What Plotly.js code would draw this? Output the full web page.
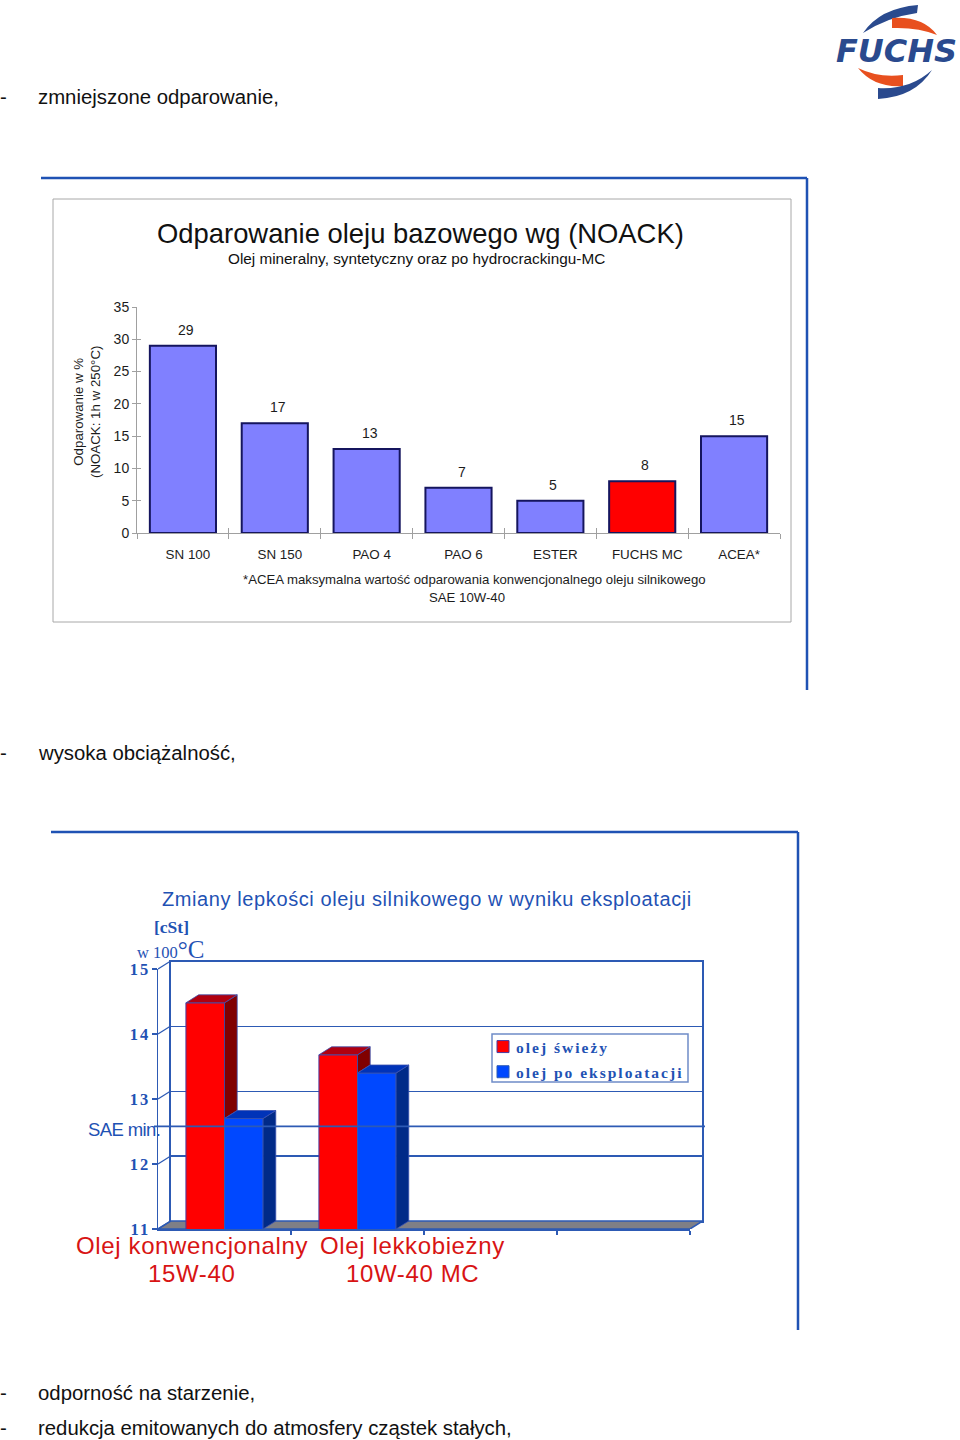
<!DOCTYPE html>
<html><head><meta charset="utf-8">
<script src="https://cdn.plot.ly/plotly-3.0.1.min.js"></script>
<style>
html,body{margin:0;padding:0;background:#fff}
#chart{width:960px;height:1440px}
.legendtext{letter-spacing:2px;transform:translateX(-7px)}
.y5tick text{letter-spacing:2px}
</style></head><body><div id="chart"></div>
<script>
// ---------- data ----------
const noackCategories = ["SN 100","SN 150","PAO 4","PAO 6","ESTER","FUCHS MC","ACEA*"];
const noackValues = [29,17,13,7,5,8,15];
const noackColors = ["#8080ff","#8080ff","#8080ff","#8080ff","#8080ff","#ff0000","#8080ff"];
const noackTicks = [0,5,10,15,20,25,30,35];

const oilLabelsTop = ["Olej konwencjonalny","Olej lekkobieżny"];
const oilLabelsBottom = ["15W-40","10W-40 MC"];
const oilPositions = [0,1];
const freshOil = [14.48,13.68];
const usedOil = [12.7,13.4];
const saeMin = 12.58;
const viscTicks = [11,12,13,14,15];
const slotBoundaries = [0.5,1.5,2.5,3.5];

const bodyLines = [
  ["zmniejszone odparowanie,",97],
  ["wysoka obciążalność,",753],
  ["odporność na starzenie,",1393],
  ["redukcja emitowanych do atmosfery cząstek stałych,",1428]
];

// ---------- helpers ----------
const W=960,H=1440;
const X=p=>p/W, Y=p=>1-p/H;
const SANS="Liberation Sans, Arial, sans-serif", SERIF="Liberation Serif, Times New Roman, serif";
const BLUE="#1f52b4", LINE="#2d5ab4", INK="#1c1c1c", RED="#d81414";
function note(text,px,py,opt){return Object.assign({text,x:X(px),y:Y(py),xref:"paper",yref:"paper",showarrow:false,
  xanchor:"center",yanchor:"middle",font:{family:SANS,size:13,color:INK}},opt||{});}
function spaced(t,s){return `<span style="letter-spacing:${s}px">${t}</span>`;}
function pathOf(seg){return seg.map(s=>{const c=s[0],v=s.slice(1);let o=c;for(let i=0;i<v.length;i+=2){o+=" "+X(v[i])+" "+Y(v[i+1]);}return o;}).join(" ")+" Z";}
function rule(x0,y0,x1,y1,color,width){return {type:"line",xref:"paper",yref:"paper",x0:X(x0),x1:X(x1),y0:Y(y0),y1:Y(y1),line:{color,width}};}
function swoosh(seg,color){return {type:"path",xref:"paper",yref:"paper",path:pathOf(seg),fillcolor:color,line:{width:0}};}

// ---------- chart 1 traces ----------
const traces=[];
traces.push({type:"bar",x:noackCategories,y:noackValues,width:0.72,showlegend:false,hoverinfo:"skip",
  marker:{color:noackColors,line:{color:"#15155e",width:2}},xaxis:"x",yaxis:"y"});
traces.push({type:"scatter",mode:"markers",x:noackCategories,y:noackValues,marker:{opacity:0},showlegend:false,hoverinfo:"skip",xaxis:"x2",yaxis:"y2"});

// ---------- chart 2: 3-D look, depth expressed in axis units ----------
const depthX=0.0955, depthY=0.123, base=viscTicks[0], slotMax=3.5;
const barShare=0.29;
// wall
traces.push({type:"scatter",mode:"markers",x:[0],y:[base],marker:{opacity:0},showlegend:false,hoverinfo:"skip",xaxis:"x3",yaxis:"y3"});
// floor + corner edges
traces.push({type:"scatter",mode:"lines",fill:"toself",fillcolor:"#7f7f86",line:{color:LINE,width:1.5},showlegend:false,hoverinfo:"skip",
  x:[-0.5,slotMax,slotMax+depthX,-0.5+depthX,-0.5],y:[base,base,base+depthY,base+depthY,base],xaxis:"x4",yaxis:"y4"});
{const dx=[],dy=[];viscTicks.forEach(v=>{dx.push(-0.5,-0.5+depthX,null);dy.push(v,v+depthY,null);});
 traces.push({type:"scatter",mode:"lines",line:{color:LINE,width:1.2},x:dx,y:dy,showlegend:false,hoverinfo:"skip",xaxis:"x4",yaxis:"y4"});}
// front faces
traces.push({type:"bar",name:"olej świeży",x:oilPositions,y:freshOil,legendgroup:"a",marker:{color:"#ff0000",line:{color:"#4a3aa0",width:1}},hoverinfo:"skip",xaxis:"x5",yaxis:"y5"});
traces.push({type:"bar",name:"olej po eksploatacji",x:oilPositions,y:usedOil,legendgroup:"b",marker:{color:"#0048ff",line:{color:"#2d5ab4",width:1}},hoverinfo:"skip",xaxis:"x5",yaxis:"y5"});
function face(xs,ys,color){traces.push({type:"scatter",mode:"lines",fill:"toself",fillcolor:color,line:{color:"#3a50b0",width:0.8},x:xs,y:ys,showlegend:false,hoverinfo:"skip",xaxis:"x5",yaxis:"y5"});}
oilPositions.forEach((p,i)=>{
  const a=p-barShare,m=p,b=p+barShare,r=freshOil[i],u=usedOil[i];
  face([m,m,m+depthX,m+depthX,m],[Math.min(u,r),r,r+depthY,Math.min(u,r)+depthY,Math.min(u,r)],"#800000");
  face([a,m,m+depthX,a+depthX,a],[r,r,r+depthY,r+depthY,r],"#b00010");
  face([b,b,b+depthX,b+depthX,b],[base,u,u+depthY,base+depthY,base],"#002a88");
  face([m,b,b+depthX,m+depthX,m],[u,u,u+depthY,u+depthY,u],"#0033b8");
});

// ---------- annotations ----------
const ann=[];
const bodyFont={family:SANS,size:20.35,color:"#111"};
bodyLines.forEach(([t,py])=>{
  ann.push(note("-",-2,py,{xanchor:"left",font:bodyFont}));
  ann.push(note(t,36,py,{xanchor:"left",font:bodyFont}));
});
ann.push(note("Odparowanie oleju bazowego wg (NOACK)",420,234,{font:{family:SANS,size:27.4,color:"#111"}}));
ann.push(note("Olej mineralny, syntetyczny oraz po hydrocrackingu-MC",416.5,258,{font:{family:SANS,size:15.3,color:"#111"}}));
ann.push(note("Odparowanie w %<br>(NOACK: 1h w 250°C)",87,412,{textangle:-90,font:{family:SANS,size:13.3,color:INK}}));
ann.push(note("*ACEA maksymalna wartość odparowania konwencjonalnego oleju silnikowego",474,579,{font:{family:SANS,size:13.2,color:INK}}));
ann.push(note("SAE 10W-40",467,597,{font:{family:SANS,size:13.2,color:INK}}));
noackCategories.forEach((c,i)=>ann.push({text:String(noackValues[i]),x:c,y:noackValues[i],xref:"x",yref:"y",yshift:16,xshift:3,showarrow:false,yanchor:"middle",font:{family:SANS,size:14,color:INK}}));

ann.push(note(spaced("Zmiany lepkości oleju silnikowego w wyniku eksploatacji",0.6),427,899,{font:{family:SANS,size:20,color:BLUE}}));
ann.push(note("<b>[cSt]</b>",171,927,{font:{family:SERIF,size:17.5,color:BLUE}}));
ann.push(note("w 100<span style=\"font-size:25px\">°C</span>",170.5,949,{font:{family:SERIF,size:16.5,color:BLUE}}));
ann.push({text:spaced("SAE min.",-0.6),xref:"paper",yref:"y5",x:X(124),y:saeMin,showarrow:false,xanchor:"center",yanchor:"middle",yshift:-3,font:{family:SANS,size:18.5,color:BLUE}});
const labelShift=[-33,55];
oilPositions.forEach((p,i)=>{
  ann.push({text:spaced(oilLabelsTop[i],0.63),x:p,y:base,xref:"x5",yref:"y5",yanchor:"middle",yshift:-16,xshift:labelShift[i],showarrow:false,font:{family:SANS,size:24,color:RED}});
  ann.push({text:spaced(oilLabelsBottom[i],0.63),x:p,y:base,xref:"x5",yref:"y5",yanchor:"middle",yshift:-44,xshift:labelShift[i],showarrow:false,font:{family:SANS,size:24,color:RED}});
});
// logo wordmark
ann.push(note("<b><i>FUCHS</i></b>",896,51,{font:{family:"DejaVu Sans",size:32,color:"#2a4a8e"}}));

// ---------- shapes ----------
const shapes=[
  rule(41,178,807,178,BLUE,2.5), rule(807,178,807,690,BLUE,2.5),
  rule(51,832,798,832,BLUE,2.5), rule(798,832,798,1330,BLUE,2.5),
  {type:"rect",xref:"paper",yref:"paper",x0:X(53),x1:X(791),y0:Y(199),y1:Y(622),line:{color:"#a8a8a8",width:1}},
  {type:"line",xref:"paper",yref:"y5",x0:X(154),x1:X(705),y0:saeMin,y1:saeMin,line:{color:LINE,width:1.8},layer:"above"},
  {type:"rect",xref:"paper",yref:"paper",x0:X(492),x1:X(688),y0:Y(1034),y1:Y(1082),fillcolor:"#fff",line:{color:"#6f8cc8",width:1.5},layer:"above"},
  swoosh([["M",863,33],["Q",880,8,918,5],["L",917,13],["Q",888,17,863,33]],"#2a4a8e"),
  swoosh([["M",892,18],["Q",923,16,937,35],["Q",918,27,892,28]],"#e8501f"),
  swoosh([["M",858,68],["Q",878,78,903,75],["L",903,86],["Q",874,88,858,68]],"#e8501f"),
  swoosh([["M",932,70],["Q",915,97,878,99],["L",878,88],["Q",910,90,932,70]],"#2a4a8e")
];

// ---------- layout ----------
const xTickFont={family:SANS,size:13.4,color:INK}, yTickFont={family:SANS,size:14,color:INK}, GREY="#a0a0a0";
const layout={
  width:W,height:H,margin:{l:0,r:0,t:0,b:0},paper_bgcolor:"#fff",plot_bgcolor:"rgba(0,0,0,0)",
  barmode:"group",bargap:0.42,bargroupgap:0,
  showlegend:true,
  legend:{x:X(483),y:Y(1030),xanchor:"left",yanchor:"top",bgcolor:"rgba(0,0,0,0)",borderwidth:0,
    font:{family:SERIF,size:15.5,color:BLUE,weight:"bold"},tracegroupgap:2,traceorder:"grouped",itemclick:false,itemdoubleclick:false},
  xaxis:{domain:[X(137),X(780)],type:"category",categoryorder:"array",categoryarray:noackCategories,range:[-0.5,6.5],anchor:"y",
    showline:true,linecolor:GREY,linewidth:1,ticks:"outside",ticklen:5,tickwidth:1,tickcolor:GREY,tickson:"boundaries",
    tickfont:xTickFont,ticklabelshift:5,ticklabelstandoff:9,showgrid:false,zeroline:false,fixedrange:true},
  yaxis:{domain:[Y(533),Y(307)],range:[0,35],tickvals:noackTicks,anchor:"x",showline:true,linecolor:GREY,linewidth:1,
    ticks:"outside",ticklen:4,tickwidth:1,tickcolor:GREY,tickfont:yTickFont,ticklabelstandoff:0,showgrid:false,zeroline:false,fixedrange:true},
  xaxis2:{overlaying:"x",type:"category",categoryorder:"array",categoryarray:noackCategories,range:[-0.5,6.5],anchor:"y2",
    ticks:"inside",ticklen:5,tickwidth:1,tickcolor:GREY,tickson:"boundaries",showticklabels:false,showgrid:false,zeroline:false,fixedrange:true},
  yaxis2:{overlaying:"y",range:[0,35],tickvals:noackTicks,anchor:"x2",ticks:"inside",ticklen:4,tickwidth:1,tickcolor:GREY,
    showticklabels:false,showgrid:false,zeroline:false,fixedrange:true},
  // back wall of the 3-D box
  xaxis3:{domain:[X(170.7),X(702.2)],range:[0,1],anchor:"y3",showline:true,mirror:true,linecolor:LINE,linewidth:1.5,showticklabels:false,ticks:"",showgrid:false,zeroline:false,fixedrange:true},
  yaxis3:{domain:[Y(1221),Y(961.5)],range:[11,15],tickvals:viscTicks,anchor:"x3",showline:true,mirror:true,linecolor:LINE,linewidth:1.5,showticklabels:false,ticks:"",
    showgrid:true,gridcolor:LINE,gridwidth:1.5,zeroline:false,fixedrange:true},
  // floor and corner edges
  xaxis4:{domain:[X(158),X(158+133*(4+depthX))],range:[-0.5,slotMax+depthX],anchor:"y4",visible:false,fixedrange:true},
  yaxis4:{domain:[Y(1229),Y(1229-65*(4+depthY))],range:[11,15+depthY],anchor:"x4",visible:false,fixedrange:true},
  // front axes with the bars
  xaxis5:{domain:[X(158),X(690)],range:[-0.5,slotMax],anchor:"y5",showline:true,linecolor:LINE,linewidth:1.5,tickvals:slotBoundaries,ticktext:["","","",""],
    ticks:"outside",ticklen:4,tickwidth:1.2,tickcolor:LINE,showgrid:false,zeroline:false,fixedrange:true},
  yaxis5:{domain:[Y(1229),Y(969)],range:[11,15],tickvals:viscTicks,anchor:"x5",showline:true,linecolor:LINE,linewidth:1.5,
    ticks:"outside",ticklen:5,tickwidth:1.2,tickcolor:LINE,tickfont:{family:SERIF,size:16.5,color:BLUE,weight:"bold"},ticklabelstandoff:-2,showgrid:false,zeroline:false,fixedrange:true},
  annotations:ann,shapes:shapes
};
Plotly.newPlot("chart",traces,layout,{displayModeBar:false,staticPlot:true,responsive:false});
</script></body></html>
